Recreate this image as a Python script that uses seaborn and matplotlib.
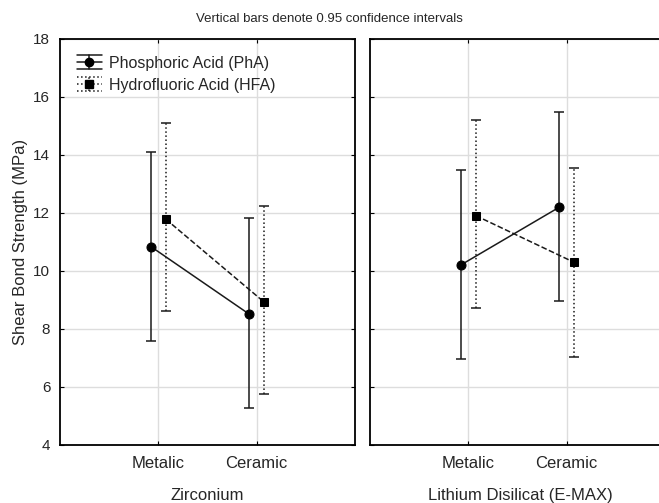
import matplotlib
matplotlib.use("Agg")
import matplotlib.pyplot as plt
from matplotlib.legend_handler import HandlerBase
from matplotlib.lines import Line2D
import seaborn as sns
import pandas as pd
import numpy as np

categories = ["Metalic", "Ceramic"]
groups = ["Zirconium", "Lithium Disilicat (E-MAX)"]
series = ["Phosphoric Acid (PhA)", "Hydrofluoric Acid (HFA)"]

# rows: group, cols: category
pha_mean = [[10.84, 8.51], [10.21, 12.20]]
pha_low = [[7.60, 5.27], [6.95, 8.98]]
pha_high = [[14.11, 11.82], [13.48, 15.47]]
hfa_mean = [[11.79, 8.93], [11.91, 10.30]]
hfa_low = [[8.62, 5.76], [8.71, 7.05]]
hfa_high = [[15.09, 12.24], [15.21, 13.54]]

sns.set_style("white")
plt.rcParams['font.family'] = ['Liberation Sans', 'DejaVu Sans']

col = "#1a1a1a"
offset = 0.075
styles = {
    series[0]: dict(ls="-", marker="o", ms=6.5, ebls="-", off=-offset),
    series[1]: dict(ls="--", marker="s", ms=5.5, ebls=":", off=offset),
}


class HandlerCI(HandlerBase):
    def __init__(self, ls, marker, ms):
        super().__init__()
        self.ls, self.marker, self.ms = ls, marker, ms

    def create_artists(self, legend, orig_handle, xdescent, ydescent, width,
                       height, fontsize, trans):
        x0, x1 = -xdescent, -xdescent + width
        xm = (x0 + x1) / 2
        yc = -ydescent + height / 2
        h = height * 0.6
        arts = []
        for yy in (yc + h, yc, yc - h):
            arts.append(Line2D([x0, x1], [yy, yy], color=col, lw=1.1, linestyle=self.ls))
        arts.append(Line2D([xm, xm], [yc - h, yc + h], color=col, lw=1.1, linestyle=self.ls))
        arts.append(Line2D([xm], [yc], marker=self.marker, ms=self.ms, color="black",
                           linestyle="none"))
        for a in arts:
            a.set_transform(trans)
        return arts


fig = plt.figure(figsize=(6.59, 5.03), dpi=100)
ax1 = fig.add_axes([60/659, 1-445/503, 295/659, 406/503])
ax2 = fig.add_axes([370/659, 1-445/503, 300/659, 406/503])

for gi, ax in enumerate([ax1, ax2]):
    rows = []
    for s, m, lo, hi in [(series[0], pha_mean, pha_low, pha_high),
                         (series[1], hfa_mean, hfa_low, hfa_high)]:
        for ci, c in enumerate(categories):
            rows.append(dict(series=s, x=ci + styles[s]["off"], mean=m[gi][ci],
                             low=lo[gi][ci], high=hi[gi][ci]))
    df = pd.DataFrame(rows)
    for s in series:
        d = df[df.series == s]
        st = styles[s]
        sns.lineplot(data=d, x="x", y="mean", ax=ax, color=col, lw=1.1,
                     linestyle=st["ls"], marker=st["marker"], markersize=st["ms"],
                     markeredgecolor="black", markerfacecolor="black", legend=False,
                     zorder=4)
        eb = ax.errorbar(d["x"], d["mean"],
                         yerr=[d["mean"] - d["low"], d["high"] - d["mean"]],
                         fmt="none", ecolor=col,
                         elinewidth=1.1, capsize=3.5, capthick=1.1, zorder=3)
        eb[2][0].set_linestyle(st["ebls"])

    ax.set_xlim(-1, 2)
    ax.set_ylim(4, 18)
    ax.set_xticks([0, 1])
    ax.set_xticklabels(categories, fontsize=12)
    ax.set_yticks(np.arange(4, 19, 2))
    ax.grid(True, color="#dddddd", lw=1)
    ax.set_axisbelow(True)
    for sp in ax.spines.values():
        sp.set_visible(True)
        sp.set_color("black")
        sp.set_linewidth(1.3)
    ax.tick_params(axis="both", direction="in", length=3, color="black",
                   labelsize=11, left=True, right=True, bottom=True, top=True, pad=7)
    ax.tick_params(axis="x", labelsize=12, pad=8)
    ax.set_xlabel(groups[gi], fontsize=12, labelpad=12)
    ax.set_ylabel("")

# right panel: same data scale as left; its right edge runs past the figure edge
ax2.set_xlim(-1, -1 + 3 * 300 / 295)
ax2.spines["right"].set_visible(False)
ax2.tick_params(axis="y", labelleft=False, right=False)
ax1.set_ylabel("Shear Bond Strength (MPa)", fontsize=12, labelpad=4)

dummies = [Line2D([], []), Line2D([], [])]
leg = ax1.legend(dummies, series, loc="upper left",
                 bbox_to_anchor=(0.035, 0.975),
                 handler_map={dummies[0]: HandlerCI("-", "o", 6),
                              dummies[1]: HandlerCI(":", "s", 5.5)},
                 frameon=False, fontsize=11.5, handlelength=1.6, handletextpad=0.45,
                 borderaxespad=0.2, labelspacing=0.45, borderpad=0.2)

fig.text(0.5, 1-19/503, "Vertical bars denote 0.95 confidence intervals",
         ha="center", va="center", fontsize=9.5, color=".15")

fig.savefig("out.png", dpi=100)
